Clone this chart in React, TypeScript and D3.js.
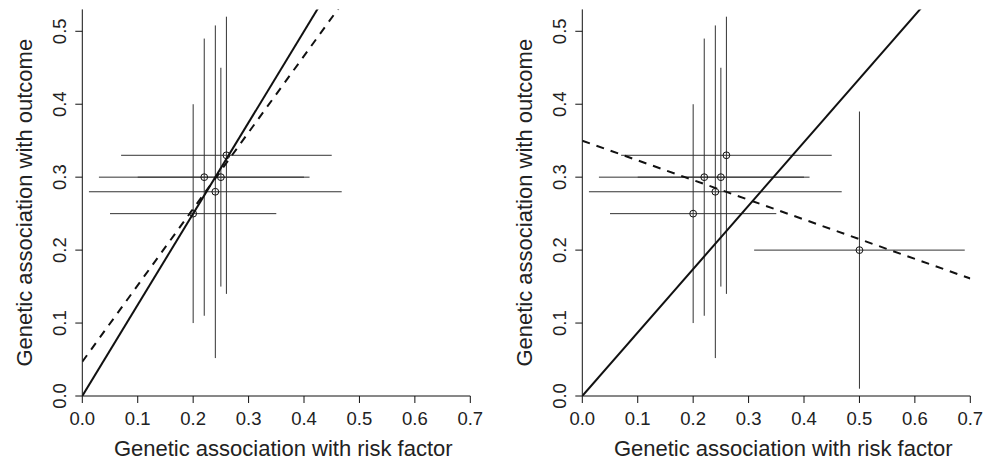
import React from "react";
import * as d3 from "d3";

// Data: genetic associations (points) with 95% CI half-widths
const bx = [0.2, 0.22, 0.24, 0.25, 0.26];
const by = [0.25, 0.3, 0.28, 0.3, 0.33];
const bxHalf = [0.15, 0.19, 0.228, 0.15, 0.19];
const byHalf = [0.15, 0.19, 0.228, 0.15, 0.19];

// Extra (outlier) variant in the right panel
const extraX = [0.5];
const extraY = [0.2];
const extraXHalf = [0.19];
const extraYHalf = [0.19];

// Regression lines: [intercept, slope]
const leftSolid = [0, 1.25];
const leftDashed = [0.047, 1.048];
const rightSolid = [0, 0.87];
const rightDashed = [0.35, -0.27];

const xTicks = [0, 0.1, 0.2, 0.3, 0.4, 0.5, 0.6, 0.7];
const yTicks = [0, 0.1, 0.2, 0.3, 0.4, 0.5];
const xDomain = [0, 0.7];
const yDomain = [0, 0.53];
const xTitle = "Genetic association with risk factor";
const yTitle = "Genetic association with outcome";

const FONT = "'Liberation Sans', Arial, Helvetica, sans-serif";

type PanelProps = {
  x0: number;
  px: number[];
  py: number[];
  pxh: number[];
  pyh: number[];
  solid: number[];
  dashed: number[];
  id: string;
};

function Panel({ x0, px, py, pxh, pyh, solid, dashed, id }: PanelProps) {
  const x = d3.scaleLinear().domain(xDomain).range([x0, x0 + 388]);
  const y = d3.scaleLinear().domain(yDomain).range([396, 9.4]);
  const lineGen = d3
    .line<[number, number]>()
    .x((d) => x(d[0]))
    .y((d) => y(d[1]));
  const lineData = (ab: number[]): [number, number][] => {
    const [a, b] = ab;
    return [
      [xDomain[0], a + b * xDomain[0]],
      [xDomain[1], a + b * xDomain[1]],
    ];
  };
  const clipId = "clip-" + id;
  return (
    <g>
      <defs>
        <clipPath id={clipId}>
          <rect x={x(0)} y={y(yDomain[1])} width={x(0.7) - x(0)} height={y(0) - y(yDomain[1])} />
        </clipPath>
      </defs>
      {/* error bars */}
      <g stroke="#333" strokeWidth={1}>
        {px.map((v, i) => (
          <g key={"e" + i}>
            <line x1={x(v - pxh[i])} x2={x(v + pxh[i])} y1={y(py[i])} y2={y(py[i])} />
            <line x1={x(v)} x2={x(v)} y1={y(py[i] - pyh[i])} y2={y(py[i] + pyh[i])} />
          </g>
        ))}
      </g>
      {/* points */}
      {px.map((v, i) => (
        <circle key={"c" + i} cx={x(v)} cy={y(py[i])} r={3.4} fill="none" stroke="#111" strokeWidth={1} />
      ))}
      {/* regression lines */}
      <g clipPath={`url(#${clipId})`}>
        <path d={lineGen(lineData(solid)) || ""} stroke="#111" strokeWidth={2} fill="none" />
        <path d={lineGen(lineData(dashed)) || ""} stroke="#111" strokeWidth={2} fill="none" strokeDasharray="8,7" />
      </g>
      {/* axes */}
      <line x1={x(0)} x2={x(0.7)} y1={y(0)} y2={y(0)} stroke="#111" strokeWidth={1} />
      <line x1={x(0)} x2={x(0)} y1={y(0)} y2={y(yDomain[1])} stroke="#111" strokeWidth={1} />
      {xTicks.map((t) => (
        <g key={"xt" + t}>
          <line x1={x(t)} x2={x(t)} y1={y(0)} y2={y(0) + 7} stroke="#111" strokeWidth={1} />
          <text x={x(t)} y={424.5} textAnchor="middle" fontSize={18.5} fontFamily={FONT} fill="#222">
            {t.toFixed(1)}
          </text>
        </g>
      ))}
      {yTicks.map((t) => (
        <g key={"yt" + t}>
          <line x1={x(0) - 7} x2={x(0)} y1={y(t)} y2={y(t)} stroke="#111" strokeWidth={1} />
          <text
            transform={`translate(${x(0) - 16},${y(t)}) rotate(-90)`}
            textAnchor="middle"
            fontSize={18.5}
            fontFamily={FONT}
            fill="#222"
          >
            {t.toFixed(1)}
          </text>
        </g>
      ))}
      <text x={x0 + 201} y={456} textAnchor="middle" fontSize={22} fontFamily={FONT} fill="#222">
        {xTitle}
      </text>
      <text
        transform={`translate(${x0 - 50},${(y(0) + y(yDomain[1])) / 2}) rotate(-90)`}
        textAnchor="middle"
        fontSize={22}
        fontFamily={FONT}
        fill="#222"
      >
        {yTitle}
      </text>
    </g>
  );
}

export default function App() {
  return (
    <svg width={995} height={460} style={{ position: "absolute", left: 0, top: 0, background: "#fff" }}>
      <rect width={995} height={460} fill="#fff" />
      <Panel x0={82.3} px={bx} py={by} pxh={bxHalf} pyh={byHalf} solid={leftSolid} dashed={leftDashed} id="l" />
      <Panel
        x0={582.3}
        px={[...bx, ...extraX]}
        py={[...by, ...extraY]}
        pxh={[...bxHalf, ...extraXHalf]}
        pyh={[...byHalf, ...extraYHalf]}
        solid={rightSolid}
        dashed={rightDashed}
        id="r"
      />
    </svg>
  );
}
